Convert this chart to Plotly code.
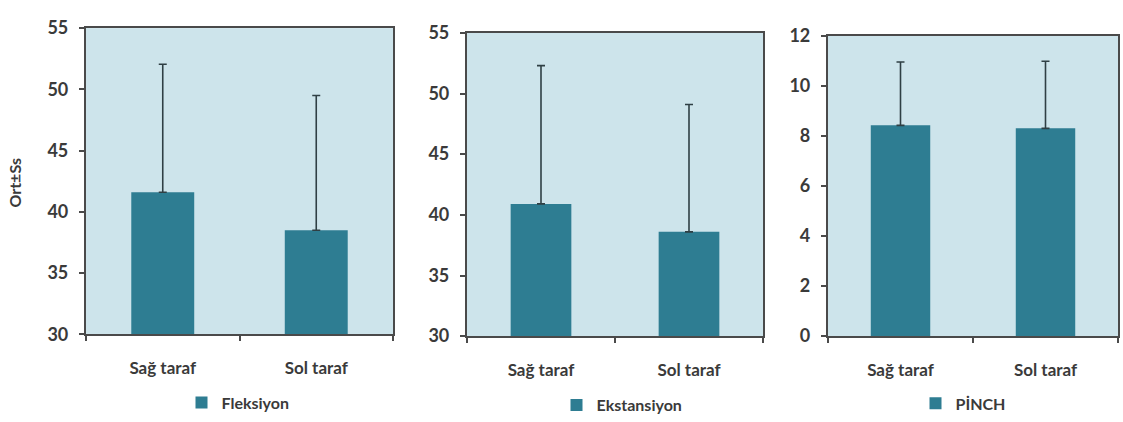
import plotly.graph_objects as go

# Categories and measured values (mean and SD) for each test
categories = ["Sağ taraf", "Sol taraf"]

fleksiyon_mean = [41.6, 38.5]
fleksiyon_sd = [10.45, 11.0]

ekstansiyon_mean = [40.9, 38.6]
ekstansiyon_sd = [11.4, 10.5]

pinch_mean = [8.42, 8.30]
pinch_sd = [2.53, 2.68]

series_names = ["Fleksiyon", "Ekstansiyon", "PİNCH"]
y_ranges = [[30, 55], [30, 55], [0, 12]]
y_dtick = [5, 5, 2]

BAR = "#2e7d92"
BG = "#cde4eb"
AXIS = "#4a4a4a"
TXT = "#3a3a3a"
FONT = "Lato"

W, H = 1123, 422
# plot-area boxes in pixels: (left, right, top, bottom)
boxes = [(86, 393, 17, 340), (467, 763, 22, 342), (828, 1118, 25, 342)]
legend_pos = [(238, 412), (622, 415), (963, 413)]

means = [fleksiyon_mean, ekstansiyon_mean, pinch_mean]
sds = [fleksiyon_sd, ekstansiyon_sd, pinch_sd]

fig = go.Figure()
layout = dict(
    width=W, height=H,
    margin=dict(l=0, r=0, t=0, b=0),
    paper_bgcolor="white",
    font=dict(family=FONT, color=TXT),
)

for i in range(3):
    sfx = "" if i == 0 else str(i + 1)
    leg = "legend" if i == 0 else f"legend{i + 1}"
    fig.add_trace(go.Bar(
        x=categories, y=means[i], name=series_names[i],
        marker=dict(color=BAR, line=dict(width=0)),
        width=0.41,
        # upper half only (plus direction)
        error_y=dict(type="data", symmetric=False, array=sds[i],
                     arrayminus=[None] * len(sds[i]),
                     color="#2f3f44", thickness=1.6, width=4),
        xaxis="x" + sfx, yaxis="y" + sfx,
        legend=leg, showlegend=True,
    ))
    l, r, t, b = boxes[i]
    layout["xaxis" + sfx] = dict(
        domain=[l / W, r / W], anchor="y" + sfx,
        type="category", tickson="boundaries",
        ticks="outside", ticklen=5, tickcolor=AXIS, tickwidth=1.5,
        showline=True, linecolor=AXIS, linewidth=2.2, mirror=True,
        showgrid=False, ticklabelstandoff=17,
        tickfont=dict(family=FONT, size=17, color=TXT, weight="bold"),
    )
    layout["yaxis" + sfx] = dict(
        domain=[1 - b / H, 1 - t / H], anchor="x" + sfx,
        range=y_ranges[i], dtick=y_dtick[i],
        ticks="outside", ticklen=5, tickcolor=AXIS, tickwidth=1.5,
        showline=True, linecolor=AXIS, linewidth=2.2, mirror=True,
        showgrid=False, zeroline=False, ticklabelstandoff=7,
        tickfont=dict(family=FONT, size=18, color=TXT, weight="bold"),
    )
    lx, ly = legend_pos[i]
    layout[leg] = dict(
        x=lx / W, y=1 - ly / H, xanchor="center", yanchor="middle",
        bgcolor="rgba(0,0,0,0)",
        font=dict(family=FONT, size=16, color=TXT, weight="bold"),
        itemwidth=30, itemsizing="constant",
    )

layout["plot_bgcolor"] = BG
layout["annotations"] = [dict(
    text="<b>Ort±Ss</b>", textangle=-90, showarrow=False,
    x=15 / W, y=1 - 180 / H, xref="paper", yref="paper",
    xanchor="center", yanchor="middle",
    font=dict(family=FONT, size=16, color=TXT),
)]

fig.update_layout(**layout)
fig.write_html("out.html")
